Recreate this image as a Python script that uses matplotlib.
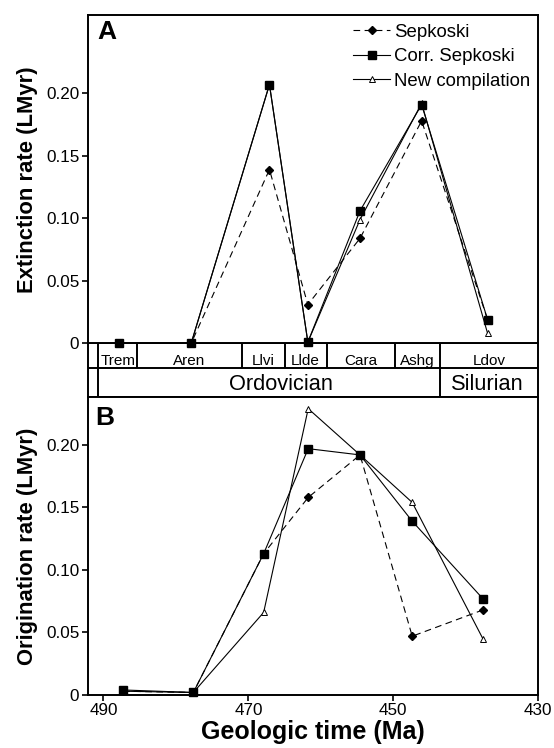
import matplotlib
matplotlib.use("Agg")
import matplotlib.pyplot as plt

plt.rcParams['font.family'] = ['Liberation Sans', 'DejaVu Sans']

# time of each interval midpoint (Ma)
t_ext = [487.9, 477.9, 467.1, 461.8, 454.6, 446.1, 437.0]
t_orig = [487.3, 477.6, 467.9, 461.75, 454.6, 447.4, 437.65]

# extinction rates (panel A)
ext_sepkoski = [0.0, 0.0, 0.139, 0.031, 0.084, 0.178, 0.019]
ext_corr = [0.0, 0.0, 0.207, 0.001, 0.106, 0.191, 0.019]
ext_new = [0.0, 0.0, 0.207, 0.001, 0.099, 0.192, 0.008]

# origination rates (panel B)
orig_sepkoski = [0.003, 0.002, 0.113, 0.158, 0.192, 0.047, 0.068]
orig_corr = [0.004, 0.002, 0.113, 0.197, 0.192, 0.139, 0.077]
orig_new = [0.003, 0.002, 0.066, 0.229, 0.192, 0.154, 0.045]

# timescale band
stage_names = ['Trem', 'Aren', 'Llvi', 'Llde', 'Cara', 'Ashg', 'Ldov']
stage_bounds = [490.7, 485.35, 470.9, 465.0, 459.2, 449.8, 443.6, 430.0]
period_names = ['Ordovician', 'Silurian']
period_pos = [465.5, 437.0]
period_bound = 443.6

xlim = (492.2, 430.0)

fig = plt.figure(figsize=(5.54, 7.48), dpi=100)
axb = fig.add_axes([0.158, 0.4697, 0.8137, 0.0714], zorder=1)
axA = fig.add_axes([0.158, 0.541, 0.8137, 0.4385], zorder=3)
axB = fig.add_axes([0.158, 0.0709, 0.8137, 0.3988], zorder=3)

def draw(ax, t, s, c, n):
    ax.plot(t, s, color='k', lw=0.8, ls=(0, (6, 4)), marker='D', ms=4,
            clip_on=False, label='Sepkoski', zorder=4)
    ax.plot(t, c, color='k', lw=0.8, marker='s', ms=5.5,
            clip_on=False, label='Corr. Sepkoski', zorder=5)
    ax.plot(t, n, color='k', lw=0.8, marker='^', ms=4.5, mfc='white', mew=0.7,
            clip_on=False, label='New compilation', zorder=3)

draw(axA, t_ext, ext_sepkoski, ext_corr, ext_new)
draw(axB, t_orig, orig_sepkoski, orig_corr, orig_new)

for ax in (axA, axB, axb):
    ax.set_xlim(xlim)
    for sp in ax.spines.values():
        sp.set_linewidth(1.4)

yt = [0, 0.05, 0.10, 0.15, 0.20]
ytl = ['0', '0.05', '0.10', '0.15', '0.20']
axA.set_ylim(0, 0.2624)
axB.set_ylim(0, 0.2386)
for ax in (axA, axB):
    ax.set_yticks(yt)
    ax.set_yticklabels(ytl)
    ax.tick_params(axis='y', direction='out', length=4, width=1.2, labelsize=12.3, pad=2)
axA.set_xticks([])
axB.set_xticks([490, 470, 450, 430])
axB.tick_params(axis='x', direction='out', length=4, width=1.2, labelsize=12.3, pad=2)

axA.set_ylabel('Extinction rate (LMyr)', fontsize=15.8, fontweight='bold', labelpad=6)
axB.set_ylabel('Origination rate (LMyr)', fontsize=15.8, fontweight='bold', labelpad=6)
axB.set_xlabel('Geologic time (Ma)', fontsize=18, fontweight='bold', labelpad=1)

axA.text(0.022, 0.985, 'A', transform=axA.transAxes, fontsize=19, fontweight='bold',
         ha='left', va='top')
axB.text(0.017, 0.97, 'B', transform=axB.transAxes, fontsize=19, fontweight='bold',
         ha='left', va='top')

axA.legend(loc='upper right', frameon=False, fontsize=13.4, handlelength=2.0,
           handletextpad=0.18, labelspacing=0.4, borderaxespad=0.05,
           bbox_to_anchor=(1.0, 1.0))

# timescale band
axb.set_ylim(0, 1)
axb.set_xticks([])
axb.set_yticks([])
mid = 0.532
axb.axhline(mid, color='k', lw=1.4)
axb.vlines(stage_bounds[0], 0, 1, color='k', lw=1.4)
axb.vlines(stage_bounds[1:-1], mid, 1, color='k', lw=1.4)
axb.vlines(period_bound, 0, mid, color='k', lw=1.4)
for i, nm in enumerate(stage_names):
    xc = (stage_bounds[i] + stage_bounds[i + 1]) / 2
    axb.text(xc, 0.594, nm, ha='center', va='baseline', fontsize=11)
for nm, xc in zip(period_names, period_pos):
    axb.text(xc, 0.125, nm, ha='center', va='baseline', fontsize=15.7)

fig.savefig('out.png', dpi=100)
